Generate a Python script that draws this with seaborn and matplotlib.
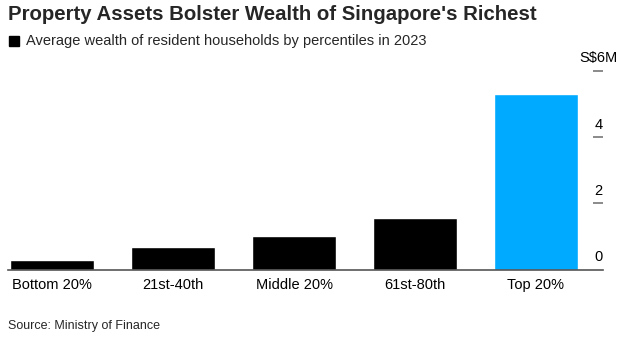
import matplotlib
matplotlib.use("Agg")
import matplotlib.pyplot as plt
import matplotlib.patches as mpatches
import seaborn as sns
import pandas as pd
from matplotlib.transforms import blended_transform_factory

categories = ["Bottom 20%", "21st-40th", "Middle 20%", "61st-80th", "Top 20%"]
wealth_m = [0.29, 0.67, 1.0, 1.57, 5.29]
bar_colors = ["#000000", "#000000", "#000000", "#000000", "#00AAFF"]
yticks = [0, 2, 4, 6]
ytick_labels = ["0", "2", "4", "S$6M"]

sns.set_theme(style="white")
plt.rcParams["font.family"] = ["Liberation Sans", "DejaVu Sans"]

df = pd.DataFrame({"cat": categories, "val": wealth_m})

fig = plt.figure(figsize=(6.28, 3.52), dpi=100)
W, H = 628, 352
ax = fig.add_axes([8 / W, 1 - 269.5 / H, (603 - 8) / W, (269.5 - 71) / H])

sns.barplot(data=df, x="cat", y="val", hue="cat", palette=bar_colors,
            order=categories, hue_order=categories, legend=False,
            width=0.69, ax=ax, saturation=1)

ax.set_xlim(-0.364, 4.554)
ax.set_ylim(0, 6)
for s in ["top", "left", "right"]:
    ax.spines[s].set_visible(False)
ax.spines["bottom"].set_color("#555555")
ax.spines["bottom"].set_linewidth(1.2)
ax.set_xlabel("")
ax.set_ylabel("")
ax.tick_params(axis="x", length=0, pad=6, labelsize=10.5, colors="#000000")

ax.yaxis.tick_right()
ax.set_yticks(yticks[1:])
ax.tick_params(axis="y", direction="in", length=7.5, width=1.2, color="#777777",
               labelright=False, right=True, left=False)
trans = blended_transform_factory(ax.transAxes, ax.transData)
for v, lab in zip(yticks, ytick_labels):
    if lab.startswith("S$"):
        ax.text(1.025, v + 0.18, lab, transform=trans, ha="right", va="bottom",
                fontsize=10.5, color="#000000")
    else:
        ax.text(0.992, v + 0.16, lab, transform=trans, ha="center", va="bottom",
                fontsize=10.5, color="#000000")

fig.text(8 / W, 1 - 15 / H, "Property Assets Bolster Wealth of Singapore's Richest",
         fontsize=14.7, fontweight="bold", va="center", ha="left")
fig.patches.append(mpatches.Rectangle((9 / W, 1 - 46 / H), 10 / W, 10 / H,
                                      transform=fig.transFigure, color="black"))
fig.text(26 / W, 1 - 41 / H, "Average wealth of resident households by percentiles in 2023",
         fontsize=10.5, va="center", ha="left")
fig.text(8 / W, 1 - 326 / H, "Source: Ministry of Finance",
         fontsize=9, va="center", ha="left")

fig.savefig("out.png", dpi=100)
